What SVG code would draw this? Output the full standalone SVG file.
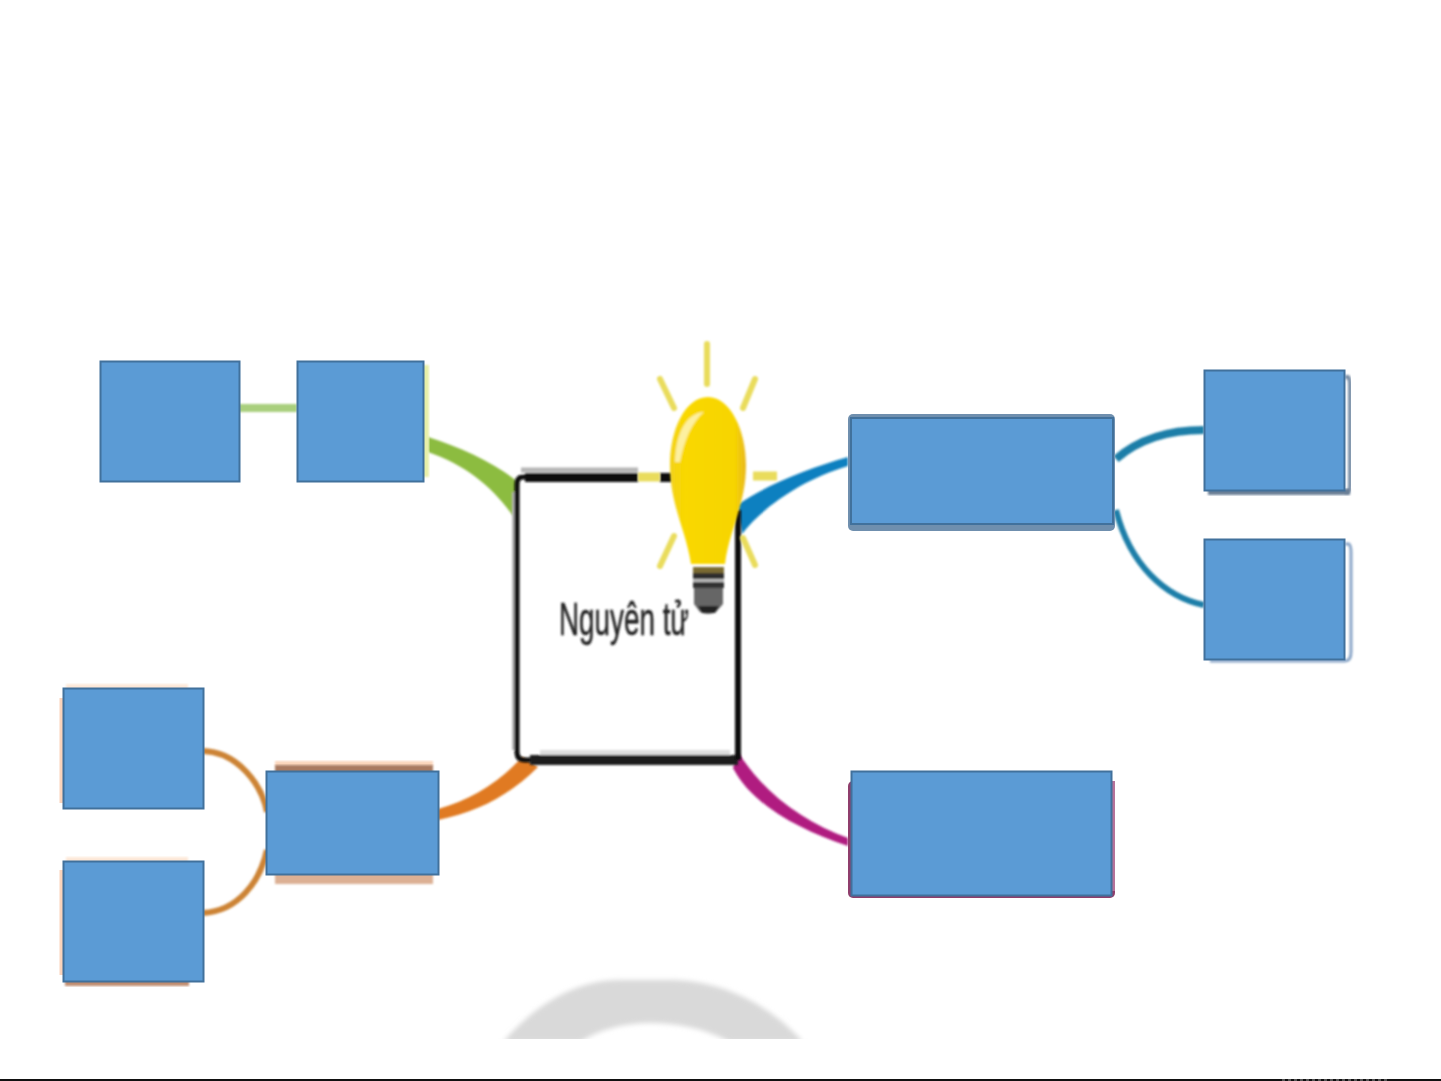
<svg xmlns="http://www.w3.org/2000/svg" width="1441" height="1081" viewBox="0 0 1441 1081">
<style>
.box{fill:#5b9bd5;stroke:#41719c;stroke-width:2}
.thin{fill:none;stroke-linecap:butt}
.ray{fill:none;stroke:#e9dc5c;stroke-width:6;stroke-linecap:round}
.bar{fill:none;stroke:#e9dc5c;stroke-width:9}
.lbl{font-family:"Liberation Sans",Arial,sans-serif;font-size:47px;fill:#222}
</style>
<defs>
<filter id="soft" x="-10%" y="-10%" width="120%" height="120%"><feGaussianBlur stdDeviation="1"/></filter>
<filter id="blur" x="-10%" y="-20%" width="120%" height="140%"><feGaussianBlur stdDeviation="2.500"/></filter>
<linearGradient id="bulb" x1="0" x2="1" y1="0" y2="0"><stop offset="0" stop-color="#f3d21a"/><stop offset=".2" stop-color="#f9d800"/><stop offset=".85" stop-color="#f7d500"/><stop offset="1" stop-color="#e8b820"/></linearGradient>
</defs>
<rect width="1441" height="1081" fill="#fff"/>
<g id="backdrop">
<path d="M503,1042 C535,1005 575,980 620,980 H675 C725,982 770,1005 803,1042 L730,1042 C705,1028 675,1023 650,1023 C625,1023 600,1029 580,1042 Z" fill="#d9d9d9" filter="url(#blur)"/>
<rect x="0" y="1039" width="1441" height="40" fill="#fff"/>
<rect x="0" y="1079" width="1441" height="2" fill="#111"/>
<path d="M1282,1080 H1388" stroke="#555" stroke-width="2" stroke-dasharray="3 3" fill="none"/>
</g>
<g id="connectors" filter="url(#soft)">
<path class="thin" d="M239,408 H297" stroke="#a9cf7d" stroke-width="8"/>
<path d="M428,437 C460,447 495,463 518,482 L513,516 C492,486 465,465 428,452 Z" fill="#8cbc3f"/>
<path d="M848,457 C810,468 770,483 737,505 L742,534 C760,510 800,480 848,466 Z" fill="#0f80c0"/>
<path class="thin" d="M1116,459 C1140,438 1170,430 1204,430" stroke="#1f7ea8" stroke-width="8"/>
<path class="thin" d="M1116,510 C1130,565 1165,597 1204,605" stroke="#1f7ea8" stroke-width="6"/>
<path d="M438,809 C470,800 500,782 522,757 L538,767 C510,795 478,812 438,820 Z" fill="#e07a22"/>
<path class="thin" d="M203,751 C238,752 262,785 267,812" stroke="#cc8335" stroke-width="6"/>
<path class="thin" d="M203,913 C238,911 260,882 267,850" stroke="#cc8335" stroke-width="6"/>
<path d="M738,752 C765,795 805,822 848,838 L848,846 C800,830 752,805 733,768 Z" fill="#b01a80"/>
</g>
<g id="center">
<g filter="url(#soft)">
<path d="M521,470 H638" fill="none" stroke="#b5b5b5" stroke-width="5"/>
<path d="M513.500,492 V750" fill="none" stroke="#b5b5b5" stroke-width="3"/>
<path d="M540,752.500 H730" fill="none" stroke="#ddd" stroke-width="5"/>
<path d="M638,477 H523 Q517,477 517,484 V752 Q517,760 525,760 H738" fill="none" stroke="#0c0c0c" stroke-width="9" style="stroke-width:5"/>
<path d="M638,477.500 H525" fill="none" stroke="#0c0c0c" stroke-width="9"/>
<path d="M530,760 H738" fill="none" stroke="#1c1c1c" stroke-width="10"/>
<path d="M738,510 V760" fill="none" stroke="#111" stroke-width="6"/>
<rect x="660" y="473" width="12" height="9" fill="#111"/>
</g>
<text class="lbl" x="559" y="635" textLength="130" lengthAdjust="spacingAndGlyphs" filter="url(#soft)" style="stroke:#222;stroke-width:.5">Nguyên tử</text>
</g>
<g id="bulb-icon">
<g filter="url(#soft)">
<path class="ray" d="M707,344 V384"/>
<path class="ray" d="M660,379 L674,408"/>
<path class="ray" d="M755,379 L743,408"/>
<path class="ray" d="M660,566 L674,536"/>
<path class="ray" d="M755,565 L743,538"/>
<path class="bar" d="M638,477 H660"/>
<path class="bar" d="M753,476 H777"/>
<path d="M708,397 C685,397 670,430 670,465 C670,505 686,530 691,564 H725 C729,530 746,505 746,465 C746,430 730,397 708,397 Z" fill="url(#bulb)"/>
<path d="M675,462 C676,430 688,413 704,412 C692,422 684,440 680,462 Z" fill="#fdf0a0"/>
<rect x="693" y="567" width="31" height="6" fill="#7a6a30"/>
<rect x="693" y="573" width="31" height="6" fill="#2e2e2e"/>
<rect x="693" y="579" width="31" height="3" fill="#bbb"/>
<rect x="693" y="582" width="31" height="6" fill="#333"/>
<path d="M694,588 H723 V604 L716,612 Q708,616 700,612 L694,604 Z" fill="#666"/>
<path d="M698,606 H719 L715,613 H702 Z" fill="#222"/>
</g>
</g>
<g id="node-green-far"><rect class="box" x="100.500" y="361.500" width="139" height="120"/></g>
<g id="node-green">
<rect x="422" y="365" width="7" height="112" fill="#e8f0a8" filter="url(#soft)"/>
<rect class="box" x="297.500" y="361.500" width="126" height="120"/>
</g>
<g id="node-blue-main">
<rect x="848" y="414" width="267" height="117" rx="5" fill="#6f8fae"/>
<rect class="box" x="851" y="418" width="262" height="106"/>
</g>
<g id="node-blue-top">
<path d="M1345,377 H1348 Q1350,379 1350,385 V486 Q1350,492 1345,492" fill="none" stroke="#7a90a8" stroke-width="4" filter="url(#soft)"/>
<rect x="1208" y="489" width="142" height="6" fill="#6b7f96" filter="url(#soft)"/>
<rect class="box" x="1204.500" y="370.500" width="140" height="120"/>
</g>
<g id="node-blue-bottom">
<path d="M1345,544 H1349 Q1351,546 1351,552 V652 Q1351,661 1345,661 H1210" fill="none" stroke="#8aa6c8" stroke-width="3" filter="url(#soft)"/>
<rect class="box" x="1204.500" y="539.500" width="140" height="120"/>
</g>
<g id="node-orange-top">
<path d="M61.500,698 V803" stroke="#fad3bb" stroke-width="4" fill="none"/>
<rect x="66" y="684" width="122" height="6" fill="#fde8d8" filter="url(#soft)"/>
<rect class="box" x="63.500" y="688.500" width="140" height="120"/>
</g>
<g id="node-orange-bottom">
<path d="M61.500,870 V975" stroke="#fad3bb" stroke-width="4" fill="none"/>
<rect x="66" y="857" width="122" height="6" fill="#fde8d8" filter="url(#soft)"/>
<rect x="65" y="978" width="124" height="8" fill="#c08d6f" filter="url(#soft)"/>
<rect class="box" x="63.500" y="861.500" width="140" height="120"/>
</g>
<g id="node-orange">
<rect x="275" y="761" width="158" height="5" fill="#fbd5bb" filter="url(#soft)"/>
<rect x="275" y="765" width="158" height="8" fill="#a97a60" filter="url(#soft)"/>
<rect x="275" y="870" width="158" height="14" fill="#dcb094" filter="url(#soft)"/>
<rect class="box" x="266.500" y="771.500" width="172" height="103"/>
</g>
<g id="node-magenta">
<rect x="848" y="781" width="267" height="117" rx="5" fill="#8f3e6c"/>
<rect x="1112" y="781" width="3" height="110" fill="#b5739a"/>
<rect class="box" x="851.500" y="771.500" width="260" height="124"/>
</g>
</svg>
